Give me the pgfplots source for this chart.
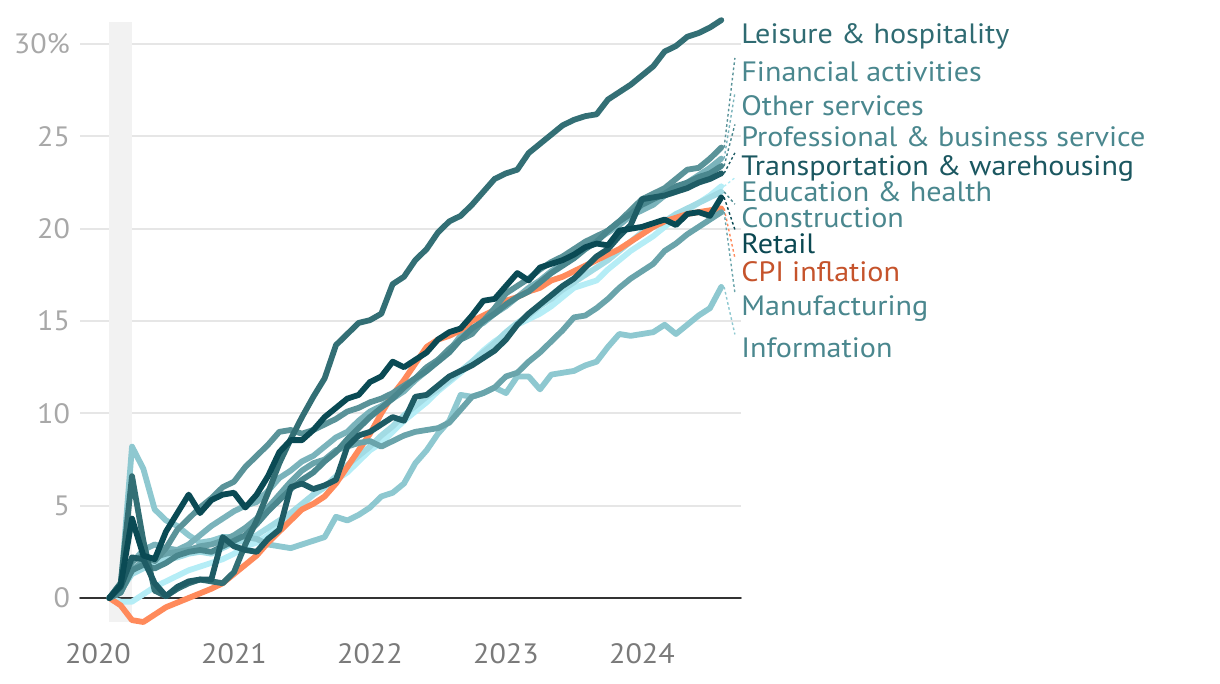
\documentclass[border=0pt]{standalone}
\usepackage{fontspec}
\setmainfont[FakeStretch=1.075]{PT Sans}
\usepackage{pgfplots}
\usepackage{pgfplotstable}
\pgfplotsset{compat=1.18}

\definecolor{gridc}{HTML}{E6E6E6}
\definecolor{bandc}{HTML}{F2F2F2}
\definecolor{ylc}{HTML}{A8A8A8}
\definecolor{xlc}{HTML}{7A7A7A}
\definecolor{clei}{HTML}{336F75}
\definecolor{cfin}{HTML}{5A9399}
\definecolor{coth}{HTML}{7AB3BB}
\definecolor{cpro}{HTML}{4A878E}
\definecolor{ctra}{HTML}{1E5C65}
\definecolor{cedu}{HTML}{B5EDF6}
\definecolor{ccon}{HTML}{A2DBE4}
\definecolor{cret}{HTML}{0A4A54}
\definecolor{ccpi}{HTML}{FF8A5B}
\definecolor{cman}{HTML}{6AA4AB}
\definecolor{cinf}{HTML}{8EC8D0}
\definecolor{tlab}{HTML}{4A878E}
\definecolor{tlei}{HTML}{2F6B72}
\definecolor{ttra}{HTML}{1B5760}
\definecolor{tret}{HTML}{0B4852}
\definecolor{tcpi}{HTML}{C5532B}

\pgfplotstableread{
m lei fin oth pro tra edu con ret cpi man inf
1 0 0 0 0 0 0 0 0 0 0 0
2 0.8 0.8 0.5 0.3 0.6 -0.2 0.4 0.7 -0.4 0.3 0.5
3 6.6 2.0 1.9 1.5 2.2 -0.2 1.3 4.3 -1.2 1.5 8.2
4 3.1 2.3 2.6 1.8 2.1 0.2 1.6 2.3 -1.3 2.0 7.0
5 0.4 2.0 2.9 1.6 0.8 0.6 1.9 2.1 -0.9 2.2 4.8
6 0.1 2.7 2.7 1.9 0.1 0.9 2.1 3.6 -0.5 2.4 4.2
7 0.5 3.7 2.6 2.3 0.6 1.2 2.2 4.6 -0.25 2.5 3.9
8 0.8 4.3 2.9 2.5 0.9 1.5 2.4 5.6 0.0 2.6 3.4
9 1.0 4.9 3.4 2.6 1.0 1.7 2.5 4.6 0.25 2.8 3.0
10 0.9 5.4 3.9 2.5 1.0 1.9 2.4 5.3 0.5 2.9 3.1
11 0.8 6.0 4.3 2.8 3.3 2.1 2.7 5.6 0.8 3.1 3.3
12 1.4 6.3 4.7 3.1 2.8 2.4 3.0 5.7 1.3 3.4 3.3
13 2.9 7.1 5.0 3.4 2.6 2.8 3.1 4.9 1.8 3.8 3.3
14 4.2 7.7 5.2 4.0 2.5 3.0 3.4 5.6 2.3 4.3 3.2
15 5.7 8.3 5.8 4.7 3.2 3.4 3.8 6.6 3.0 4.9 2.9
16 7.3 9.0 6.5 5.3 3.7 4.0 4.2 7.9 3.6 5.6 2.8
17 8.6 9.1 6.9 5.9 6.0 4.6 4.6 8.55 4.2 6.3 2.7
18 9.8 8.9 7.4 6.4 6.2 5.0 5.1 8.55 4.8 6.9 2.9
19 10.9 9.1 7.7 6.8 5.9 5.6 5.6 9.1 5.1 7.3 3.1
20 11.9 9.4 8.2 7.4 6.1 6.0 6.0 9.8 5.5 7.5 3.3
21 13.7 9.7 8.7 7.9 6.4 6.4 6.6 10.3 6.2 8.0 4.4
22 14.3 10.1 9.0 8.6 8.2 6.8 7.2 10.8 7.1 8.2 4.2
23 14.9 10.3 9.6 9.2 8.8 7.4 7.7 11.0 8.0 8.4 4.5
24 15.05 10.6 10.1 9.8 9.0 8.0 8.2 11.7 8.9 8.5 4.9
25 15.4 10.8 10.4 10.3 9.4 8.4 8.8 12.0 10.0 8.2 5.5
26 17.0 11.1 10.8 10.8 9.8 9.0 9.3 12.8 11.0 8.5 5.7
27 17.4 11.5 11.2 11.4 9.6 9.6 9.9 12.5 11.8 8.8 6.2
28 18.3 11.9 11.8 11.9 10.9 10.1 10.4 12.9 12.7 9.0 7.3
29 18.9 12.5 12.3 12.3 11.0 10.6 10.9 13.3 13.6 9.1 8.0
30 19.8 12.9 12.9 12.8 11.5 11.2 11.3 14.0 14.0 9.2 8.9
31 20.4 13.5 13.4 13.3 12.0 11.7 11.8 14.4 14.2 9.5 9.6
32 20.7 14.0 14.2 14.0 12.3 12.2 12.3 14.6 14.5 10.2 11.0
33 21.3 14.3 14.6 14.6 12.6 12.8 12.8 15.3 15.0 10.9 10.9
34 22.0 15.0 14.9 15.0 13.0 13.4 13.3 16.1 15.3 11.1 11.1
35 22.7 15.7 15.4 15.4 13.4 13.9 13.8 16.2 15.6 11.4 11.4
36 23.0 16.5 15.8 15.9 14.0 14.3 14.4 16.9 16.1 12.0 11.1
37 23.2 16.9 16.3 16.3 14.8 14.8 14.9 17.6 16.3 12.2 12.0
38 24.1 17.3 16.8 16.6 15.4 15.1 15.3 17.2 16.6 12.8 12.0
39 24.6 17.8 17.2 17.1 15.9 15.4 15.8 17.9 16.8 13.3 11.3
40 25.1 18.2 17.7 17.6 16.4 15.8 16.2 18.1 17.2 13.9 12.1
41 25.6 18.5 18.1 18.0 16.9 16.3 16.7 18.3 17.4 14.5 12.2
42 25.9 18.9 18.6 18.4 17.3 16.8 17.1 18.6 17.7 15.2 12.3
43 26.1 19.3 19.0 18.9 17.9 17.0 17.5 19.0 18.0 15.3 12.6
44 26.2 19.6 19.4 19.3 18.5 17.2 17.9 19.2 18.3 15.7 12.8
45 27.0 19.9 19.8 19.9 18.9 17.8 18.3 19.1 18.6 16.2 13.6
46 27.4 20.4 20.2 20.4 19.6 18.3 18.8 19.9 18.9 16.8 14.3
47 27.8 21.0 20.7 20.8 20.2 18.8 19.3 20.0 19.3 17.3 14.2
48 28.3 21.6 21.0 21.3 21.6 19.2 19.8 20.1 19.7 17.7 14.3
49 28.8 21.9 21.3 21.6 21.7 19.6 20.1 20.3 20.1 18.1 14.4
50 29.6 22.2 21.8 21.9 21.8 20.1 20.4 20.5 20.4 18.8 14.8
51 29.9 22.7 22.1 22.3 22.0 20.6 20.8 20.2 20.6 19.2 14.3
52 30.4 23.2 22.5 22.5 22.2 21.0 21.1 20.8 20.8 19.7 14.8
53 30.6 23.3 22.9 22.8 22.5 21.4 21.4 20.9 20.9 20.1 15.3
54 30.9 23.8 23.3 23.0 22.7 21.8 21.7 20.7 21.0 20.5 15.7
55 31.3 24.4 23.8 23.4 23.0 22.3 22.0 21.7 21.1 20.9 16.85
}\data

\begin{document}
\begin{tikzpicture}
\begin{axis}[
  at={(0,0)}, anchor=south west,
  scale only axis, width=330.5pt, height=300pt,
  xmin=-1.59, xmax=56.74, ymin=-1.3, ymax=31.2,
  clip=false,
  axis line style={draw=none},
  major tick length=0pt,
  xtick={0,12,24,36,48}, xticklabels={2020,2021,2022,2023,2024},
  ytick={0,5,10,15,20,25,30}, yticklabels={0,5,10,15,20,25,30\%},
  ymajorgrids, grid style={color=gridc, line width=1pt},
  /pgf/number format/assume math mode=true,
  tick label style={font=\fontsize{14pt}{16pt}\selectfont},
  x tick label style={color=xlc, yshift=-7.3pt},
  y tick label style={color=ylc, xshift=-1.5pt},
  every axis plot/.append style={line width=2.9pt, line join=round, line cap=round, mark=none},
]
\addplot[fill=bandc, draw=none, line width=0pt] coordinates {(1,-1.3) (3,-1.3) (3,31.2) (1,31.2)} -- cycle;
\addplot[color=black!80, line width=0.8pt] coordinates {(-1.59,0) (56.74,0)};

\addplot[color=cedu] table[x=m,y=edu]{\data};
\addplot[color=ccon] table[x=m,y=con]{\data};
\addplot[color=cinf] table[x=m,y=inf]{\data};
\addplot[color=coth] table[x=m,y=oth]{\data};
\addplot[color=ccpi] table[x=m,y=cpi]{\data};
\addplot[color=cman] table[x=m,y=man]{\data};
\addplot[color=cfin] table[x=m,y=fin]{\data};
\addplot[color=cpro] table[x=m,y=pro]{\data};
\addplot[color=clei] table[x=m,y=lei]{\data};
\addplot[color=ctra] table[x=m,y=tra]{\data};
\addplot[color=cret] table[x=m,y=ret]{\data};

% leader lines
\begin{scope}[line width=0.7pt, dash pattern=on 1.3pt off 1.3pt]
\draw[cfin] (axis cs:55.25,24.4) -- (axis cs:56.2,29.25);
\draw[coth] (axis cs:55.25,23.8) -- (axis cs:56.2,27.36);
\draw[cpro] (axis cs:55.25,23.4) -- (axis cs:56.2,25.65);
\draw[ctra] (axis cs:55.25,23.0) -- (axis cs:56.2,24.11);
\draw[cedu] (axis cs:55.25,22.3) -- (axis cs:56.2,22.76);
\draw[cpro] (axis cs:55.25,22.0) -- (axis cs:56.2,21.33);
\draw[cret] (axis cs:55.25,21.7) -- (axis cs:56.2,19.96);
\draw[ccpi] (axis cs:55.25,21.1) -- (axis cs:56.2,18.42);
\draw[cman] (axis cs:55.25,20.9) -- (axis cs:56.2,16.53);
\draw[cinf] (axis cs:55.25,16.85) -- (axis cs:56.2,14.28);
\end{scope}

\begin{scope}[every node/.style={anchor=base west, inner sep=0pt, font=\fontsize{14pt}{16pt}\selectfont}]
\node[text=tlei] at (axis cs:56.74,30.03) {Leisure \& hospitality};
\node[text=tlab] at (axis cs:56.74,27.99) {Financial activities};
\node[text=tlab] at (axis cs:56.74,26.15) {Other services};
\node[text=tlab] at (axis cs:56.74,24.43) {Professional \& business service};
\node[text=ttra] at (axis cs:56.74,22.90) {Transportation \& warehousing};
\node[text=tlab] at (axis cs:56.74,21.49) {Education \& health};
\node[text=tlab] at (axis cs:56.74,20.05) {Construction};
\node[text=tret] at (axis cs:56.74,18.67) {Retail};
\node[text=tcpi] at (axis cs:56.74,17.13) {CPI inflation};
\node[text=tlab] at (axis cs:56.74,15.32) {Manufacturing};
\node[text=tlab] at (axis cs:56.74,13.05) {Information};
\end{scope}
\end{axis}
\pgfresetboundingbox
\useasboundingbox (-40pt,-31pt) rectangle (570pt,311pt);
\end{tikzpicture}
\end{document}
